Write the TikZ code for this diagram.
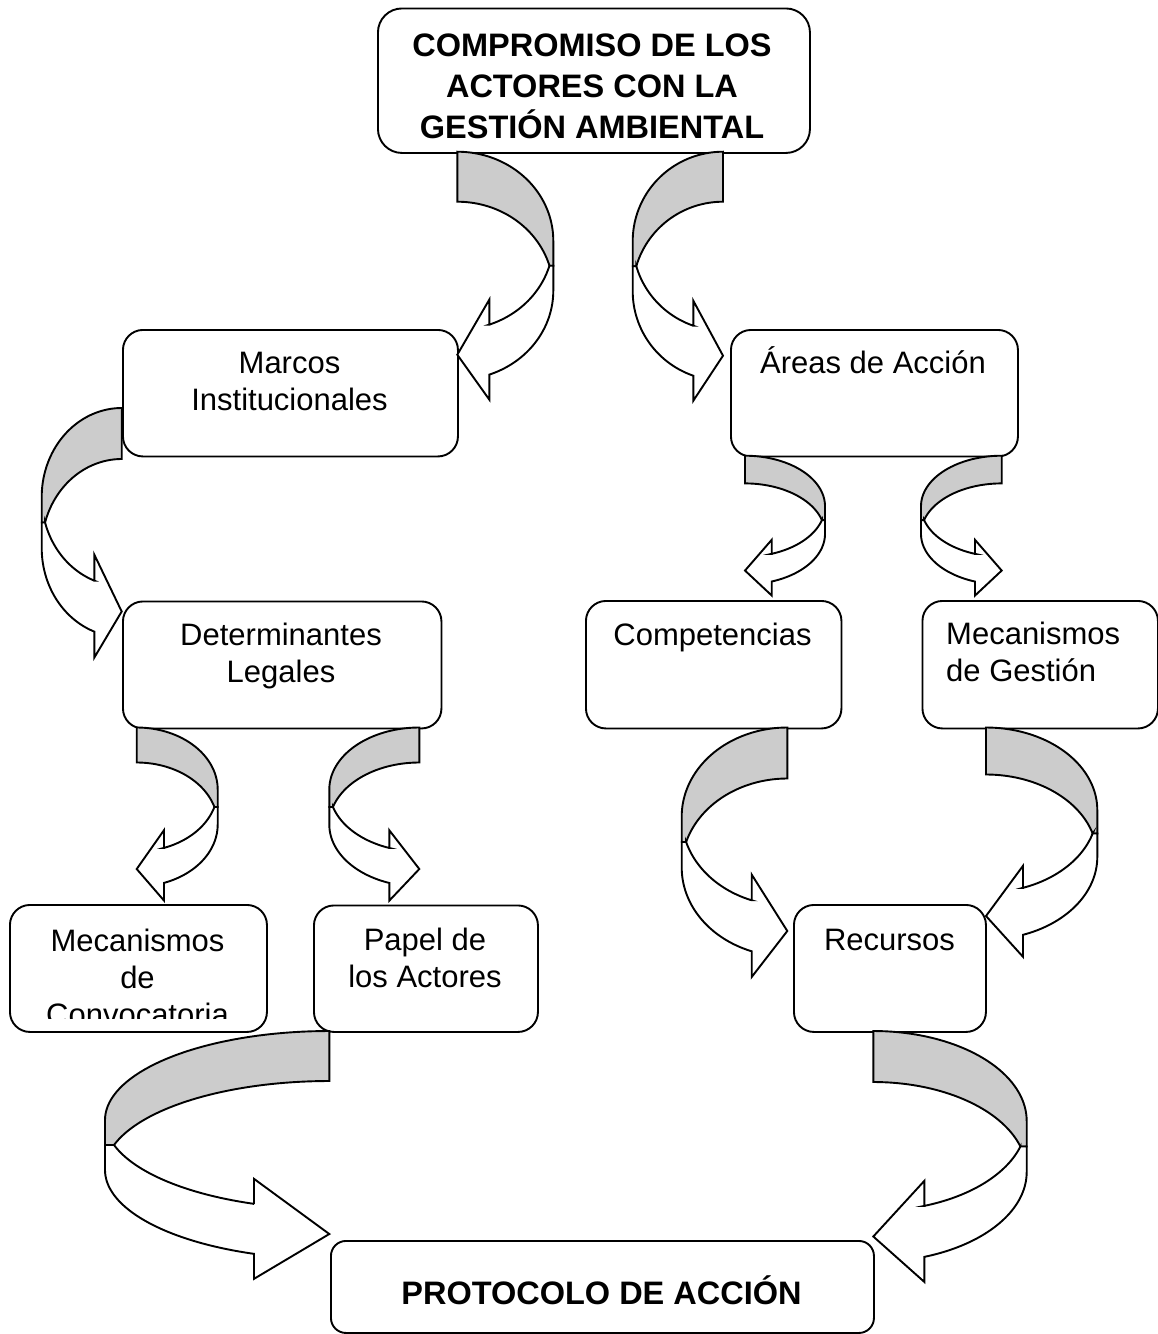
\documentclass[tikz,border=0pt]{standalone}
\usepackage{fontspec}
\setmainfont{Liberation Sans}

\tikzset{
  box/.style={draw, line width=1.9pt, fill=white, rectangle, inner sep=0pt, anchor=north west},
  arrowback/.style={fill=black!20, draw=black, line width=1.9pt},
  arrowfront/.style={fill=white, draw=black, line width=1.9pt},
  lbl/.style={inner sep=0pt, align=center, font=\fontsize{31}{37}\selectfont},
  hlbl/.style={inner sep=0pt, align=center, font=\fontsize{32.5}{41}\selectfont\bfseries},
}

% Curved block arrow: a ribbon that bends round and comes back.
% #1 x of tail and tip, #2 y of top of tail, #3 side (+1 bends right, -1 bends left),
% #4 horizontal radius, #5 vertical radius, #6 ribbon thickness,
% #7 head length, #8 head overhang on each side
\newcommand\bentarrow[8]{%
  \pgfmathsetmacro\bL{#1}%
  \pgfmathsetmacro\bT{#2}%
  \pgfmathsetmacro\bs{#3}%
  \pgfmathsetmacro\bW{#4}%
  \pgfmathsetmacro\bR{#5}%
  \pgfmathsetmacro\bth{#6}%
  \pgfmathsetmacro\bah{#7}%
  \pgfmathsetmacro\bdh{#8}%
  \pgfmathsetmacro\bphi{asin(\bth/(2*\bR))}%
  \pgfmathsetmacro\bal{acos(\bah/\bW)}%
  \pgfmathsetmacro\bcA{\bT+\bR}%
  \pgfmathsetmacro\bcB{\bT+\bR+\bth}%
  \pgfmathsetmacro\bxh{\bL+(\bs)*\bah}%
  \pgfmathsetmacro\bdy{\bR*sin(\bal)}%
  \pgfmathsetmacro\byf{\bcA+\bdy}%
  \pgfmathsetmacro\bys{\bcB+\bdy}%
  \pgfmathsetmacro\byc{\bT+\bR+\bth/2}%
  \pgfmathsetmacro\bxc{\bL+(\bs)*\bW*cos(\bphi)}%
  \pgfmathsetmacro\bxf{\bL+(\bs)*\bW}%
  \pgfmathsetmacro\byt{\bT+2*\bR+\bth/2}%
  \pgfmathsetmacro\bnal{-\bal}%
  \pgfmathsetmacro\bnphi{-\bphi}%
  % shaded back of the ribbon
  \path[arrowback]
    plot[domain=90:0, samples=40, variable=\ang]
      ({\bL+(\bs)*\bW*cos(\ang)}, {\bcA-\bR*sin(\ang)})
    -- (\bxf,\byc) -- (\bxc,\byc)
    -- plot[domain=\bphi:90, samples=40, variable=\ang]
      ({\bL+(\bs)*\bW*cos(\ang)}, {\bcB-\bR*sin(\ang)})
    -- cycle;
  % white front of the ribbon with the head
  \path[arrowfront]
    (\bxc,\byc) -- (\bxf,\byc) -- (\bxf,\bcB)
    -- plot[domain=0:\bnal, samples=40, variable=\ang]
      ({\bL+(\bs)*\bW*cos(\ang)}, {\bcB-\bR*sin(\ang)})
    -- (\bxh,{\bys+\bdh}) -- (\bL,\byt) -- (\bxh,{\byf-\bdh}) -- (\bxh,\byf)
    -- plot[domain=\bnal:\bnphi, samples=40, variable=\ang]
      ({\bL+(\bs)*\bW*cos(\ang)}, {\bcA-\bR*sin(\ang)})
    -- cycle;
}

\begin{document}
\begin{tikzpicture}[x=1pt, y=-1pt]
  \useasboundingbox (0,0) rectangle (1158,1334);
  \fill[white] (0,0) rectangle (1158,1334);

  % boxes
  \node[box, rounded corners=24pt, minimum width=432pt, minimum height=144.5pt] (top) at (377,7.5) {};
  \node[box, rounded corners=20pt, minimum width=335pt, minimum height=126.5pt] (marcos) at (122,329) {};
  \node[box, rounded corners=20pt, minimum width=287pt, minimum height=126.5pt] (areas) at (730,329) {};
  \node[box, rounded corners=20pt, minimum width=318.5pt, minimum height=127pt] (determ) at (122,600.5) {};
  \node[box, rounded corners=20pt, minimum width=255.5pt, minimum height=127.5pt] (compet) at (585,600) {};
  \node[box, rounded corners=20pt, minimum width=235.5pt, minimum height=127.5pt] (mecges) at (921.5,600) {};
  \node[box, rounded corners=20pt, minimum width=257pt, minimum height=127pt] (mecconv) at (9,904) {};
  \node[box, rounded corners=20pt, minimum width=224pt, minimum height=126.5pt] (papel) at (313,904.5) {};
  \node[box, rounded corners=20pt, minimum width=192pt, minimum height=127pt] (recursos) at (793,904) {};
  \node[box, rounded corners=15pt, minimum width=543pt, minimum height=92pt] (protocolo) at (330,1240) {};

  % texts
  \node[hlbl] (top-t) at (592,86.5) {COMPROMISO DE LOS\\ACTORES CON LA\\GESTIÓN AMBIENTAL};
  \node[lbl] (marcos-t) at (289.5,381) {Marcos\\Institucionales};
  \node[lbl] (areas-t) at (873,360) {Áreas de Acción};
  \node[lbl] (determ-t) at (281,655.5) {Determinantes\\Legales};
  \node[lbl] (compet-t) at (712.5,637) {Competencias};
  \node[lbl, align=left, anchor=west] (mecges-t) at (946,652) {Mecanismos\\de Gestión};
  \begin{scope}
    \clip (9,904) rectangle (266,1018);
    \node[lbl] (mecconv-t) at (137.5,977) {Mecanismos\\de\\Convocatoria};
  \end{scope}
  \node[lbl] (papel-t) at (425,958) {Papel de\\los Actores};
  \node[lbl] (recursos-t) at (889.5,940) {Recursos};
  \node[hlbl] (protocolo-t) at (601.5,1290) {PROTOCOLO DE ACCIÓN};

  % curved arrows
  \bentarrow{457.3}{151.7}{1}{96}{89}{50}{32}{25}       % compromiso -> marcos
  \bentarrow{723}{151.7}{-1}{90.3}{89.5}{50}{29.7}{25}  % compromiso -> areas
  \bentarrow{121.7}{408}{-1}{80}{89}{51}{27.4}{26}      % marcos -> determinantes
  \bentarrow{136.7}{727.5}{1}{81}{62}{35}{27.3}{17.7}   % determinantes -> convocatoria
  \bentarrow{419.3}{727.5}{-1}{90}{62}{35}{30}{17.7}    % determinantes -> papel
  \bentarrow{745}{455.7}{1}{80}{50.5}{27.7}{26.7}{14}   % areas -> competencias
  \bentarrow{1001.7}{455.7}{-1}{80.7}{50.5}{27.7}{26.7}{14} % areas -> mecanismos de gestion
  \bentarrow{787.3}{727.5}{-1}{105.6}{89}{51}{35.6}{25.7} % competencias -> recursos
  \bentarrow{986}{727.5}{1}{111.3}{82.5}{47}{37}{22}    % mecanismos de gestion -> recursos
  \bentarrow{329.3}{1031}{-1}{224.3}{89}{50}{75.3}{25}  % papel -> protocolo
  \bentarrow{873.3}{1031}{1}{153.4}{90}{51}{51}{25}     % recursos -> protocolo
\end{tikzpicture}
\end{document}
